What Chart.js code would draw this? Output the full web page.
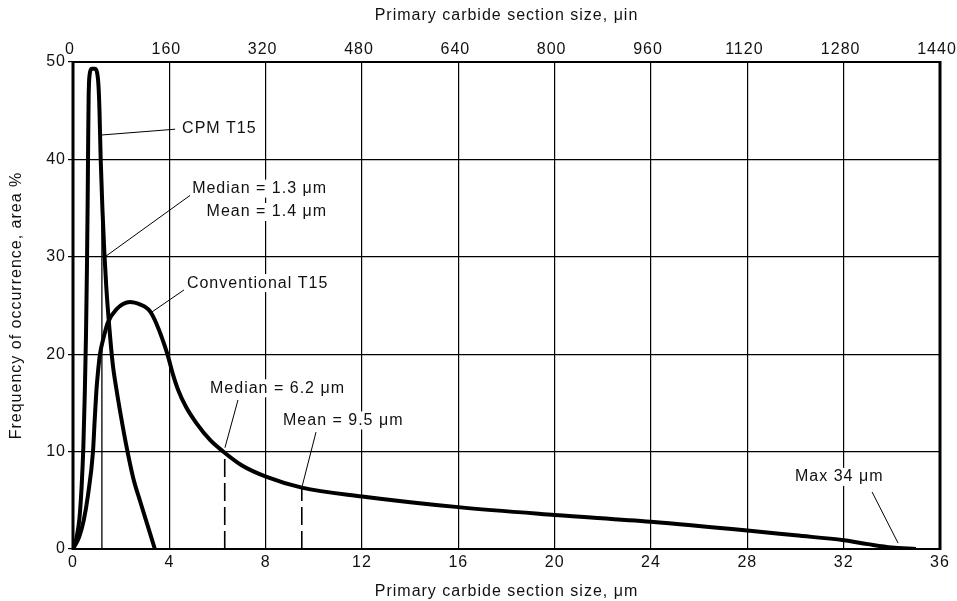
<!DOCTYPE html>
<html>
<head>
<meta charset="utf-8">
<script src="https://cdn.jsdelivr.net/npm/chart.js@4"></script>
<style>
  html, body { margin: 0; padding: 0; background: #fff; }
  canvas { display: block; }
</style>
</head>
<body>
<canvas id="c" width="957" height="601"></canvas>
<script>
// ---- data ----
const cpmX  = [0, 0.15, 0.27, 0.36, 0.43, 0.49, 0.54, 0.58, 0.61, 0.63, 0.65, 0.69, 0.77, 0.90, 1.00, 1.06, 1.10, 1.15, 1.22, 1.30, 1.38, 1.50, 1.65, 1.81, 2.00, 2.20, 2.50, 2.80, 3.10, 3.40];
const cpmY  = [0, 1.2, 3.2, 6.5, 10.5, 16.0, 22.0, 29.0, 36.0, 42.0, 46.5, 48.7, 49.3, 49.3, 48.9, 47.5, 45.0, 40.0, 35.0, 30.5, 27.0, 23.0, 19.0, 16.3, 13.5, 10.8, 7.3, 4.8, 2.4, 0];

const convX = [0, 0.25, 0.45, 0.62, 0.83, 0.90, 0.97, 1.05, 1.12, 1.26, 1.44, 1.80, 2.37, 2.80, 3.00, 3.20, 3.47, 3.92, 4.14, 4.37, 4.69, 5.13, 5.69, 6.24, 7.00, 8.04, 9.50, 12.0, 16.0, 20.0, 24.0, 28.0, 30.0, 32.0, 33.0, 34.0, 35.0];
const convY = [0, 1.2, 3.0, 5.5, 10.0, 13.2, 16.2, 18.5, 20.0, 21.6, 23.2, 24.6, 25.35, 25.1, 24.85, 24.4, 23.1, 20.0, 18.0, 16.3, 14.6, 12.9, 11.2, 10.0, 8.6, 7.4, 6.3, 5.4, 4.3, 3.5, 2.8, 1.9, 1.4, 0.9, 0.5, 0.15, 0];

const cpmMarkerX = 1.2,  cpmMarkerY = 37;     // solid thin line
const convMedianX = 6.3, convMedianY = 9.9;   // dashed
const convMeanX = 9.5,   convMeanY = 6.3;     // dashed

const bottomTicks = [0, 4, 8, 12, 16, 20, 24, 28, 32, 36];
const topTicks    = [0, 160, 320, 480, 640, 800, 960, 1120, 1280, 1440];
const yTicks      = [0, 10, 20, 30, 40, 50];

const labelTexts = ['CPM T15', 'Median = 1.3 \u03bcm', 'Mean = 1.4 \u03bcm', 'Conventional T15', 'Median = 6.2 \u03bcm', 'Mean = 9.5 \u03bcm', 'Max 34 \u03bcm'];

// ---- annotation placement (data units) ----
const labelPos = [
  {x: 4.53, y: 43.2, align: 'left'},
  {x: 10.55, y: 37.0, align: 'right'},
  {x: 10.55, y: 34.6, align: 'right'},
  {x: 4.73, y: 27.3, align: 'left'},
  {x: 5.69, y: 16.5, align: 'left'},
  {x: 8.72, y: 13.2, align: 'left'},
  {x: 29.98, y: 7.4, align: 'left'}
];
const leaders = [
  [[1.16, 42.5], [4.24, 43.1]],
  [[1.33, 30.0], [4.86, 36.3]],
  [[3.2, 24.2], [4.61, 26.6]],
  [[6.31, 10.4], [6.85, 15.3]],
  [[9.51, 6.4], [10.09, 12.0]],
  [[33.18, 5.85], [34.26, 0.6]]
];

const FONT = "'Liberation Sans', Arial, Helvetica, sans-serif";
Chart.defaults.font.family = FONT;
Chart.defaults.font.size = 16;
Chart.defaults.color = '#111';

const pts = (xs, ys) => xs.map((x, i) => ({x: x, y: ys[i]}));

const datasets = [
  {data: pts(convX, convY), borderColor: '#000', borderWidth: 4, pointRadius: 0, cubicInterpolationMode: 'monotone', fill: false},
  {data: pts(cpmX, cpmY), borderColor: '#000', borderWidth: 4, pointRadius: 0, cubicInterpolationMode: 'monotone', fill: false},
  {data: [{x: cpmMarkerX, y: 0}, {x: cpmMarkerX, y: cpmMarkerY}], borderColor: '#000', borderWidth: 1.3, pointRadius: 0},
  {data: [{x: convMedianX, y: 0}, {x: convMedianX, y: convMedianY}], borderColor: '#000', borderWidth: 1.6, borderDash: [18, 6], pointRadius: 0},
  {data: [{x: convMeanX, y: 0}, {x: convMeanX, y: convMeanY}], borderColor: '#000', borderWidth: 1.6, borderDash: [18, 6], pointRadius: 0}
];
leaders.forEach(l => datasets.push({
  data: [{x: l[0][0], y: l[0][1]}, {x: l[1][0], y: l[1][1]}],
  borderColor: '#000', borderWidth: 1, pointRadius: 0
}));

const spacing = {
  id: 'spacing',
  beforeUpdate(c) { c.ctx.letterSpacing = '1px'; },
  beforeDraw(c) { c.ctx.letterSpacing = '1px'; }
};

function labelBoxes(chart) {
  const ctx = chart.ctx, xs = chart.scales.x, ys = chart.scales.y;
  ctx.save();
  ctx.letterSpacing = '1px';
  ctx.font = '16px ' + FONT;
  const out = labelTexts.map((t, i) => {
    const p = labelPos[i];
    const px = xs.getPixelForValue(p.x), py = ys.getPixelForValue(p.y);
    const w = ctx.measureText(t).width;
    const left = p.align === 'left' ? px : px - w;
    return {t, px, py, w, left, align: p.align};
  });
  ctx.restore();
  return out;
}

const annot = {
  id: 'annot',
  beforeDatasetsDraw(chart) {
    const ctx = chart.ctx;
    ctx.save();
    ctx.fillStyle = '#fff';
    labelBoxes(chart).forEach(b => ctx.fillRect(b.left - 2, b.py - 9, b.w + 4, 18));
    ctx.restore();
  },
  afterDraw(chart) {
    const ctx = chart.ctx, a = chart.chartArea;
    ctx.save();
    ctx.letterSpacing = '1px';
    ctx.font = '16px ' + FONT;
    ctx.fillStyle = '#111';
    ctx.textBaseline = 'middle';
    labelBoxes(chart).forEach(b => {
      ctx.textAlign = 'left';
      ctx.fillText(b.t, b.left, b.py);
    });
    // frame
    ctx.strokeStyle = '#000';
    ctx.lineWidth = 2;
    ctx.beginPath();
    ctx.moveTo(a.left, a.top); ctx.lineTo(a.right, a.top);
    ctx.moveTo(a.left, a.bottom); ctx.lineTo(a.right, a.bottom);
    ctx.stroke();
    ctx.lineWidth = 3;
    ctx.beginPath();
    ctx.moveTo(a.left, a.top - 1); ctx.lineTo(a.left, a.bottom + 1);
    ctx.moveTo(a.right, a.top - 1); ctx.lineTo(a.right, a.bottom + 1);
    ctx.stroke();
    ctx.restore();
  }
};

const plain = v => String(v);

new Chart(document.getElementById('c'), {
  type: 'line',
  data: {datasets: datasets},
  plugins: [spacing, annot],
  options: {
    responsive: false,
    devicePixelRatio: 1,
    animation: false,
    events: [],
    layout: {padding: 0},
    plugins: {legend: {display: false}, tooltip: {enabled: false}},
    scales: {
      x: {
        type: 'linear', position: 'bottom', min: 0, max: 36,
        afterBuildTicks(s) { s.ticks = bottomTicks.map(v => ({value: v})); },
        afterFit(s) { s.height = 52; s.paddingRight = 17; },
        grid: {color: '#000', lineWidth: 1.2, drawTicks: false},
        border: {display: false},
        ticks: {padding: 4, color: '#111', maxRotation: 0, autoSkip: false, callback: plain},
        title: {display: true, text: 'Primary carbide section size, \u03bcm', color: '#111', padding: {top: 9, bottom: 0}}
      },
      x2: {
        type: 'linear', position: 'top', min: 0, max: 1440,
        afterBuildTicks(s) { s.ticks = topTicks.map(v => ({value: v})); },
        afterFit(s) { s.height = 62; s.paddingRight = 17; },
        grid: {display: false, drawTicks: false},
        border: {display: false},
        ticks: {padding: 3, labelOffset: -3, color: '#111', maxRotation: 0, autoSkip: false, callback: plain},
        title: {display: true, text: 'Primary carbide section size, \u03bcin', color: '#111', padding: {top: 6, bottom: 12}}
      },
      y: {
        type: 'linear', position: 'left', min: 0, max: 50,
        afterBuildTicks(s) { s.ticks = yTicks.map(v => ({value: v})); },
        afterFit(s) { s.width = 73; },
        grid: {color: '#000', lineWidth: 1.2, tickLength: 5},
        border: {display: false},
        ticks: {padding: 2, color: '#111', callback: plain},
        title: {display: true, text: 'Frequency of occurrence, area %', color: '#111', padding: {top: 7, bottom: 4}}
      }
    }
  }
});
</script>
</body>
</html>
